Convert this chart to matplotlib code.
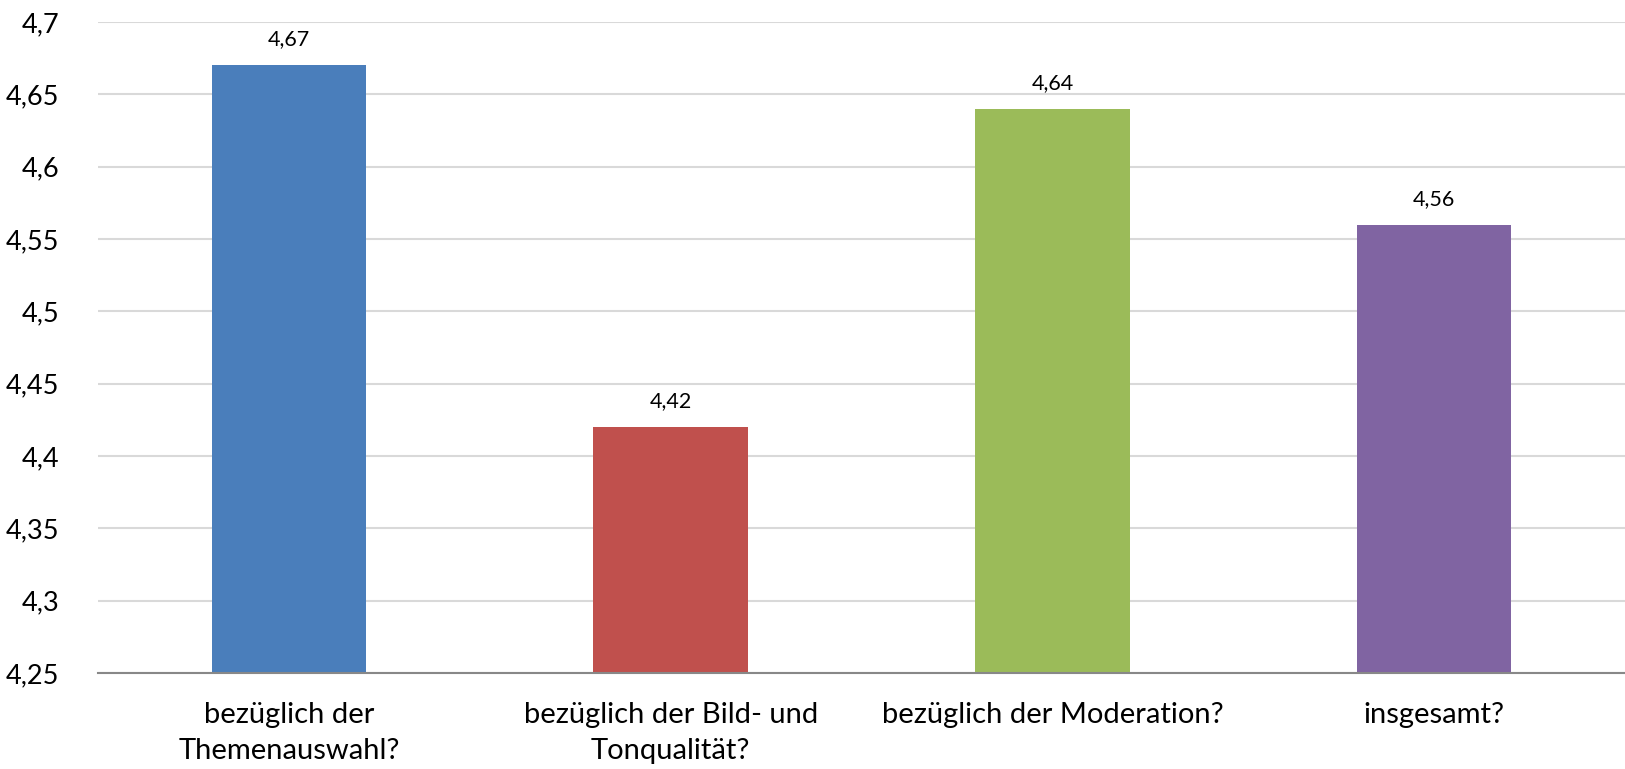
import matplotlib
matplotlib.use("Agg")
import matplotlib.pyplot as plt

categories = ["bezüglich der\nThemenauswahl?", "bezüglich der Bild- und\nTonqualität?",
              "bezüglich der Moderation?", "insgesamt?"]
values = [4.67, 4.42, 4.64, 4.56]
colors = ["#4a7ebb", "#c0504d", "#9bbb59", "#8064a2"]
yticks = [4.25, 4.3, 4.35, 4.4, 4.45, 4.5, 4.55, 4.6, 4.65, 4.7]

plt.rcParams['font.family'] = ['Lato', 'DejaVu Sans']

fig = plt.figure(figsize=(16.25, 7.69), dpi=100)
ax = fig.add_axes([98/1625, 1 - 673/769, 1 - 98/1625, (673 - 22)/769])
x = range(len(categories))
bars = ax.bar(x, [v - 4.25 for v in values], bottom=4.25, width=0.405, color=colors, zorder=3)
for xi, v in zip(x, values):
    ax.text(xi, v + 0.011, f"{v:.2f}".replace(".", ","), ha="center", va="bottom", fontsize=15.5)
ax.set_xlim(-0.5, len(categories) - 0.5)
ax.set_ylim(4.25, 4.7)
ax.set_yticks(yticks)
ax.set_yticklabels([f"{t:g}".replace(".", ",") for t in yticks], fontsize=19.5)
ax.set_xticks(list(x))
ax.set_xticklabels(categories, fontsize=21, linespacing=1.45, va="top")
ax.tick_params(axis="both", length=0)
ax.tick_params(axis="x", pad=21)
ax.tick_params(axis="y", pad=28)
ax.grid(axis="y", color="#d9d9d9", linewidth=1.5, zorder=0)
for s in ["left", "right", "top"]:
    ax.spines[s].set_visible(False)
ax.spines["bottom"].set_color("#888888")
ax.spines["bottom"].set_linewidth(1.5)
ax.spines["bottom"].set_zorder(4)
fig.savefig("out.png", dpi=100)
